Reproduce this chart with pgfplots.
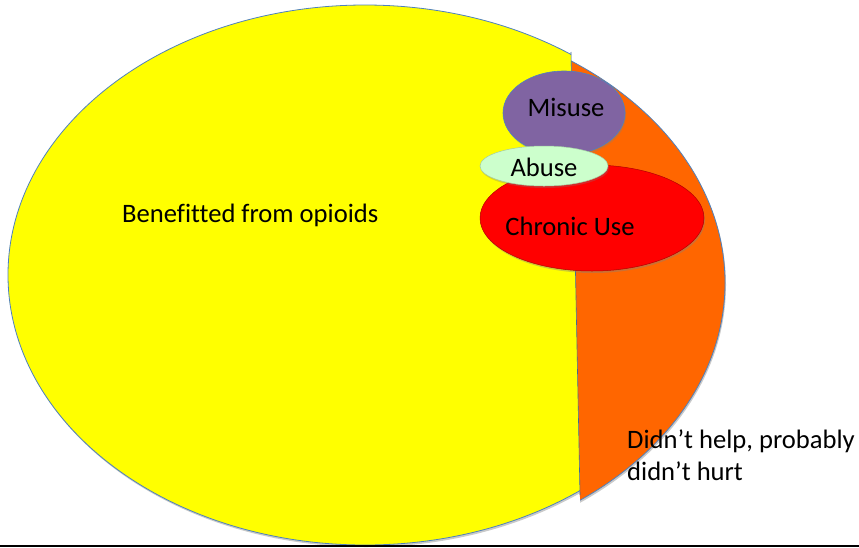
\documentclass[border=0pt]{standalone}
\usepackage{fontspec}
\setmainfont{Carlito}[Ligatures=NoCommon]
\usepackage{pgfplots}
\pgfplotsset{compat=1.18}
\definecolor{cYellow}{HTML}{FFFF00}
\definecolor{cOrange}{HTML}{FF6600}
\definecolor{cRed}{HTML}{FF0000}
\definecolor{cPurple}{HTML}{8064A2}
\definecolor{cGreen}{HTML}{CCFFCC}
\definecolor{cEdge}{HTML}{4F81BD}
\begin{document}
\begin{tikzpicture}
\begin{axis}[x=1pt, y=1pt, xmin=0, xmax=859, ymin=0, ymax=547, y dir=reverse,
  hide axis, clip=true, scale only axis]
\addplot[draw=none] coordinates {(0,0) (859,547)};
% shadows
\begin{scope}
\clip (axis cs:0,200) -- (axis cs:575,200) -- (axis cs:581,547) -- (axis cs:0,547) -- cycle;
\fill[black!60, opacity=0.35] (axis cs:366,277) ellipse [x radius=357, y radius=270];
\end{scope}
\begin{scope}
\clip (axis cs:575,200) -- (axis cs:859,200) -- (axis cs:859,547) -- (axis cs:581,547) -- cycle;
\fill[black!60, opacity=0.35] (axis cs:369,285) ellipse [x radius=357, y radius=270];
\end{scope}
% orange part
\begin{scope}
\clip (axis cs:570,0) -- (axis cs:859,0) -- (axis cs:859,547) -- (axis cs:581,547) -- cycle;
\fill[cOrange] (axis cs:368,283) ellipse [x radius=357, y radius=270];
\draw[cEdge, line width=0.8pt] (axis cs:368,283) ellipse [x radius=357, y radius=270];
\end{scope}
% yellow part
\begin{scope}
\clip (axis cs:0,0) -- (axis cs:570,0) -- (axis cs:581,547) -- (axis cs:0,547) -- cycle;
\fill[cYellow] (axis cs:365,275) ellipse [x radius=357, y radius=270];
\draw[cEdge, line width=0.8pt] (axis cs:365,275) ellipse [x radius=357, y radius=270];
\end{scope}
\draw[cEdge!80!black, line width=0.6pt] (axis cs:571,52) -- (axis cs:580,495);
% misuse
\fill[black!50, opacity=0.35] (axis cs:565,115) ellipse [x radius=61, y radius=42];
\fill[cPurple] (axis cs:564,113) ellipse [x radius=61, y radius=42];
\draw[cEdge, line width=0.6pt] (axis cs:564,113) ellipse [x radius=61, y radius=42];
% chronic use
\fill[black!50, opacity=0.4] (axis cs:593,220) ellipse [x radius=112, y radius=53];
\fill[cRed] (axis cs:592,218) ellipse [x radius=112, y radius=53];
\draw[red!70!black, line width=0.5pt] (axis cs:592,218) ellipse [x radius=112, y radius=53];
% abuse
\fill[black!50, opacity=0.3] (axis cs:545,168) ellipse [x radius=64, y radius=20];
\fill[cGreen] (axis cs:544,166) ellipse [x radius=64, y radius=20];
\draw[cGreen!80!black, line width=0.5pt] (axis cs:544,166) ellipse [x radius=64, y radius=20];
% texts
\node[anchor=west, inner sep=0pt, font=\fontsize{26.6}{32}\selectfont] at (axis cs:122,215) {Benefitted from opioids};
\node[font=\fontsize{26.6}{32}\selectfont] at (axis cs:566,107) {Misuse};
\node[font=\fontsize{26.6}{32}\selectfont] at (axis cs:544,167) {Abuse};
\node[font=\fontsize{26.6}{32}\selectfont] at (axis cs:570,226) {Chronic Use};
\node[anchor=north west, align=left, inner sep=0pt, font=\fontsize{26.6}{32}\selectfont] at (axis cs:627,430) {Didn’t help, probably\\didn’t hurt};
\draw[black, line width=1.5pt] (axis cs:0,546) -- (axis cs:859,546);
\end{axis}
\end{tikzpicture}
\end{document}
